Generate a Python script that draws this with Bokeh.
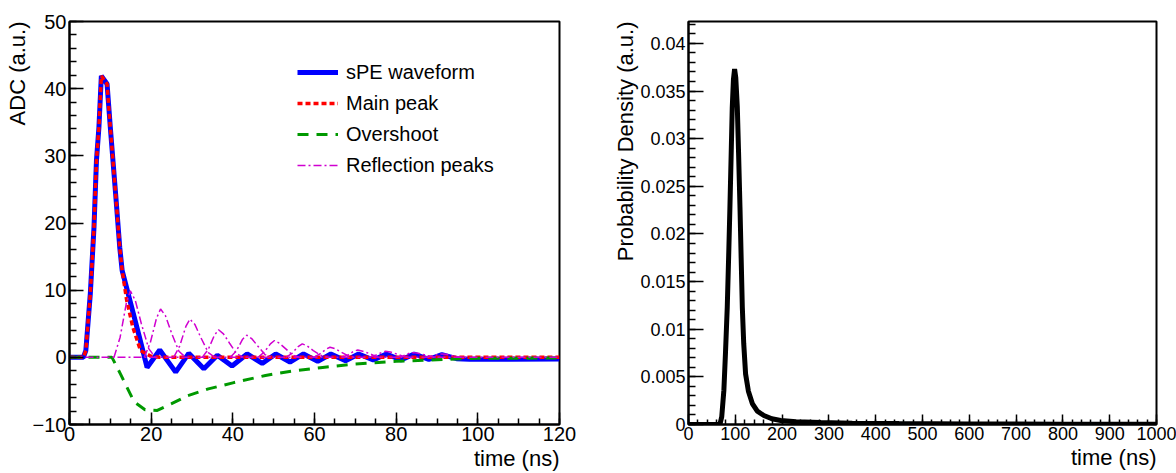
from bokeh.plotting import figure
from bokeh.layouts import row
from bokeh.models import SingleIntervalTicker, CustomJSTickFormatter, Title
from bokeh.embed import file_html
from bokeh.resources import INLINE

FONT = "Liberation Sans"

# ---------------- data: left panel (sPE waveform) ----------------
spe_t = [0, 3.4, 4.0, 5.1, 6.0, 6.6, 7.2, 7.8, 9.2, 10.0, 11.3, 12.3, 12.9, 15.0, 17.0, 19.0,
         22.1, 26.0, 29.2, 32.9, 36.2, 39.8, 43.5, 47.2, 50.5, 54.0, 57.3, 60.8, 64.0, 67.6,
         70.8, 74.4, 77.6, 81.2, 84.4, 88.0, 91.2, 94.8, 98.0, 120]
spe_v = [0, 0, 1.0, 9.5, 19.4, 29.3, 34.2, 41.9, 40.7, 34.2, 24.3, 16.4, 12.9, 8.0, 3.3, -1.5,
         1.1, -2.2, 0.6, -1.7, 0.3, -1.3, 0.5, -0.9, 0.5, -0.7, 0.5, -0.6, 0.5, -0.5,
         0.5, -0.4, 0.5, -0.4, 0.5, -0.3, 0.4, -0.2, -0.3, -0.25]

main_t = [0, 3.4, 4.0, 5.1, 6.0, 6.6, 7.2, 7.8, 9.2, 10.0, 11.3, 12.3, 12.9, 14.0, 15.5, 17.4,
          19.8, 22.0, 120]
main_v = [0, 0, 1.0, 9.5, 19.4, 29.3, 34.2, 41.9, 40.7, 34.2, 24.3, 16.4, 12.9, 8.5, 4.5, 1.0,
          0.2, 0, 0]

over_t = [0, 10.4, 12.5, 15.8, 18.5, 21.5, 25.0, 29.0, 34.0, 40.0, 48.0, 55.0, 62.0, 70.0,
          80.0, 90.0, 96.0, 100.0, 120.0]
over_v = [0, 0, -2.5, -6.6, -7.8, -7.9, -6.9, -5.7, -4.7, -3.8, -2.7, -2.0, -1.5, -1.0,
          -0.6, -0.35, -0.2, -0.15, -0.1]

refl_t = [
    [0, 120],
    [10.9, 12.4, 13.9, 14.9, 16.1, 17.6, 19.4, 21.0],
    [18.3, 19.8, 21.3, 22.3, 23.5, 25.0, 26.8, 28.4],
    [25.5, 27.0, 28.5, 29.5, 30.7, 32.2, 34.0, 35.6],
    [32.5, 34.0, 35.5, 36.5, 37.7, 39.2, 41.0, 42.6],
    [39.4, 40.9, 42.4, 43.4, 44.6, 46.1, 47.9, 49.5],
    [46.2, 47.7, 49.2, 50.2, 51.4, 52.9, 54.7, 56.3],
    [53.0, 54.5, 56.0, 57.0, 58.2, 59.7, 61.5, 63.1],
    [59.8, 61.3, 62.8, 63.8, 65.0, 66.5, 68.3, 69.9],
    [66.6, 68.1, 69.6, 70.6, 71.8, 73.3, 75.1, 76.7],
    [73.4, 74.9, 76.4, 77.4, 78.6, 80.1, 81.9, 83.5],
    [80.2, 81.7, 83.2, 84.2, 85.4, 86.9, 88.7, 90.3],
    [87.0, 88.5, 90.0, 91.0, 92.2, 93.7, 95.5, 97.1],
]
refl_v = [
    [0, 0],
    [0, 3.0, 8.0, 9.9, 8.5, 5.0, 1.3, 0],
    [0, 2.2, 5.8, 7.2, 6.2, 3.6, 0.9, 0],
    [0, 1.7, 4.6, 5.7, 4.9, 2.9, 0.7, 0],
    [0, 1.2, 3.3, 4.1, 3.5, 2.1, 0.5, 0],
    [0, 1.0, 2.7, 3.3, 2.8, 1.7, 0.4, 0],
    [0, 0.8, 2.0, 2.5, 2.1, 1.3, 0.3, 0],
    [0, 0.6, 1.6, 2.0, 1.7, 1.0, 0.3, 0],
    [0, 0.5, 1.2, 1.5, 1.3, 0.8, 0.2, 0],
    [0, 0.3, 0.9, 1.1, 0.9, 0.6, 0.1, 0],
    [0, 0.3, 0.7, 0.9, 0.8, 0.5, 0.1, 0],
    [0, 0.2, 0.6, 0.7, 0.6, 0.4, 0.1, 0],
    [0, 0.15, 0.4, 0.5, 0.45, 0.25, 0.05, 0],
]

# ---------------- data: right panel (probability density) ----------------
pdf_t = [0, 60, 67, 71, 75.6, 79, 82.8, 86, 88.5, 91, 93.5, 96, 98.5, 101, 104.3, 107, 110,
         112.5, 115, 118, 122, 128, 136.4, 147, 161, 178, 197, 230, 283, 350, 450, 600, 800, 1000]
pdf_v = [0, 0, 0, 0.0008, 0.0036, 0.0075, 0.0123, 0.0180, 0.0228, 0.0280, 0.0333, 0.0362,
         0.0373, 0.0364, 0.0333, 0.0285, 0.0228, 0.0175, 0.0123, 0.0085, 0.0053, 0.0035,
         0.0022, 0.0014, 0.00094, 0.0006, 0.00042, 0.0003, 0.0002, 0.00014, 0.0001,
         0.00006, 0.00003, 0.00002]

legend_labels = ["sPE waveform", "Main peak", "Overshoot", "Reflection peaks"]
left_xtitle = "time (ns)"
left_ytitle = "ADC (a.u.)"
right_xtitle = "time (ns)"
right_ytitle = "Probability Density (a.u.)"


def style_axes(p, label_size, xtick_in, xminor_in, ytick_in, yminor_in):
    p.outline_line_color = "black"
    p.outline_line_width = 2
    p.xgrid.visible = False
    p.ygrid.visible = False
    for ax in (p.xaxis[0], p.yaxis[0]):
        ax.axis_line_color = "black"
        ax.axis_line_width = 2
        ax.major_tick_line_color = "black"
        ax.minor_tick_line_color = "black"
        ax.major_tick_line_width = 1.5
        ax.minor_tick_line_width = 1.5
        ax.major_tick_out = 0
        ax.minor_tick_out = 0
        ax.major_label_text_font = FONT
        ax.major_label_text_font_size = label_size
        ax.major_label_text_color = "black"
        ax.axis_label = None
    p.xaxis[0].major_tick_in = xtick_in
    p.xaxis[0].minor_tick_in = xminor_in
    p.yaxis[0].major_tick_in = ytick_in
    p.yaxis[0].minor_tick_in = yminor_in
    p.xaxis[0].major_label_standoff = 2
    p.yaxis[0].major_label_standoff = 3


def add_titles(p, xt, yt):
    p.add_layout(Title(text=xt, align="right", text_font=FONT, text_font_size="22px",
                       text_font_style="normal", text_color="black", standoff=0), "below")
    p.add_layout(Title(text=yt, align="right", text_font=FONT, text_font_size="22px",
                       text_font_style="normal", text_color="black", standoff=0), "left")


# ---------------- left figure ----------------
p1 = figure(width=598, height=473, x_range=(0, 120), y_range=(-10, 50),
            output_backend="svg", toolbar_location=None,
            min_border_left=69, min_border_right=39, min_border_top=21, min_border_bottom=49)
p1.xaxis.ticker = SingleIntervalTicker(interval=20, num_minor_ticks=4)
p1.yaxis.ticker = SingleIntervalTicker(interval=10, num_minor_ticks=5)
p1.yaxis.formatter = CustomJSTickFormatter(code="return tick < 0 ? '\u2212' + (-tick) : String(tick);")
style_axes(p1, "20px", 12, 6, 14, 7)

p1.line(spe_t, spe_v, line_color="#0000ff", line_width=5, legend_label=legend_labels[0])
p1.line(main_t, main_v, line_color="#ff0000", line_width=3.5, line_dash="5 3",
        legend_label=legend_labels[1])
p1.line(over_t, over_v, line_color="#009900", line_width=3, line_dash="11 8",
        legend_label=legend_labels[2])
p1.multi_line(refl_t, refl_v, line_color="#d000d0", line_width=1.5, line_dash="8 3 2 3",
              legend_label=legend_labels[3])

lg = p1.legend[0]
lg.location = (228, 245)
lg.padding = 0
lg.margin = 0
lg.border_line_color = None
lg.background_fill_alpha = 0
lg.glyph_width = 41
lg.glyph_height = 28
lg.label_height = 28
lg.spacing = 3
lg.label_standoff = 8
lg.label_text_font = FONT
lg.label_text_font_size = "20px"
lg.label_text_color = "black"

add_titles(p1, left_xtitle, left_ytitle)

# ---------------- right figure ----------------
p2 = figure(width=578, height=473, x_range=(0, 1000), y_range=(0, 0.0423),
            output_backend="svg", toolbar_location=None,
            min_border_left=90, min_border_right=20, min_border_top=21, min_border_bottom=49)
p2.xaxis.ticker = SingleIntervalTicker(interval=100, num_minor_ticks=5)
p2.yaxis.ticker = SingleIntervalTicker(interval=0.005, num_minor_ticks=5)
p2.yaxis.formatter = CustomJSTickFormatter(code=r"return tick.toFixed(3).replace(/\.?0+$/, '');")
style_axes(p2, "18px", 10, 5, 15, 7)

p2.line(pdf_t, pdf_v, line_color="black", line_width=5)

add_titles(p2, right_xtitle, right_ytitle)

layout = row(p1, p2)
open("out.html", "w").write(file_html(layout, INLINE))
